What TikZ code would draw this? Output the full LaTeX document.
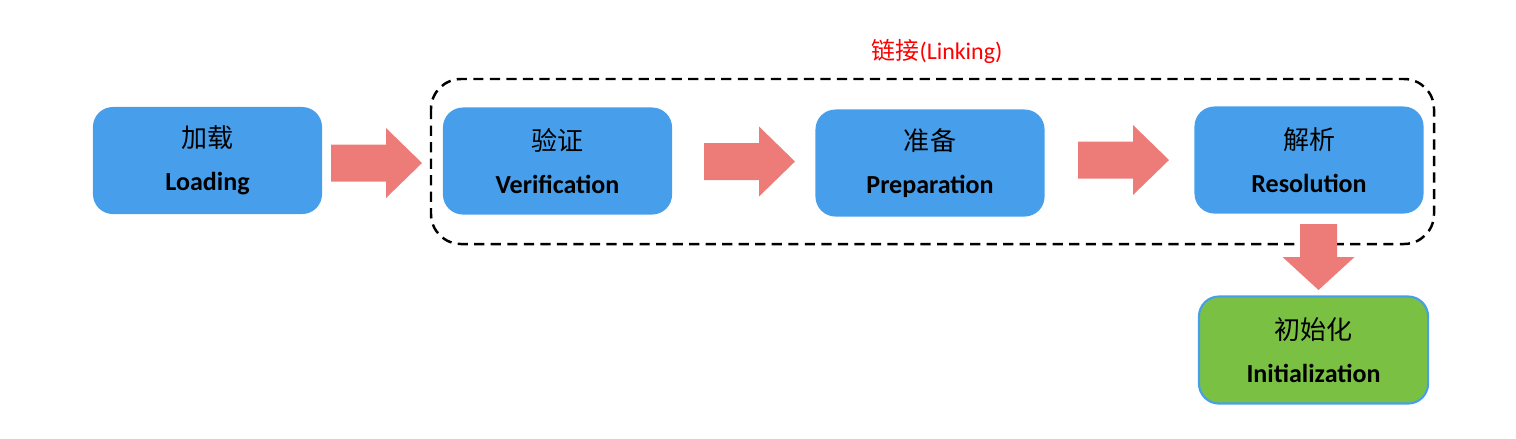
\documentclass[tikz,border=0pt]{standalone}
\usepackage{fontspec}
\setmainfont{Carlito}
\newfontfamily\cjk{Noto Sans CJK SC}
\definecolor{boxblue}{HTML}{479FEB}
\definecolor{boxgreen}{HTML}{7AC143}
\definecolor{arrowpink}{HTML}{ED7C79}
\tikzset{
  stagebox/.style={rounded corners=0.2cm, fill=boxblue, draw=none, minimum width=2.29cm, minimum height=1.07cm, inner sep=0pt, align=center, font=\fontsize{7.4}{12.2}\selectfont},
  greenbox/.style={stagebox, fill=boxgreen, draw=boxblue, line width=0.6pt},
  arrowfill/.style={fill=arrowpink, draw=none},
  linkframe/.style={draw=black, line width=0.7pt, dash pattern=on 2.9pt off 1.8pt, rounded corners=0.3cm},
  rarrow/.pic={\fill[arrowfill] (0,-18.5) -- (55,-18.5) -- (55,-35) -- (91,0) -- (55,35) -- (55,18.5) -- (0,18.5) -- cycle;},
  darrow/.pic={\fill[arrowfill] (-18.5,0) -- (-18.5,33) -- (-36,33) -- (0,66) -- (36,33) -- (18.5,33) -- (18.5,0) -- cycle;}
}
\begin{document}
\begin{tikzpicture}[x=0.01cm, y=-0.01cm]
\useasboundingbox (0,0) rectangle (1516,438);
% dashed linking frame
\draw[linkframe] (431,79) rectangle (1434,244);
\node[text=red, font=\fontsize{6.8}{8}\selectfont] (linklabel) at (937,51) {{\cjk 链接}(Linking)};
% stage boxes
\node[stagebox] (load) at (207.5,160.5) {{\cjk 加载}\\\textbf{Loading}};
\node[stagebox] (verify) at (557.5,161) {{\cjk 验证}\\\textbf{Verification}};
\node[stagebox] (prep) at (930,163) {{\cjk 准备}\\\textbf{Preparation}};
\node[stagebox] (resol) at (1309,160) {{\cjk 解析}\\\textbf{Resolution}};
\node[greenbox] (init) at (1313.5,350) {{\cjk 初始化}\\\textbf{Initialization}};
% block arrows
\pic at (331,163) {rarrow};
\pic at (704,161.5) {rarrow};
\pic at (1078,160) {rarrow};
\pic at (1318.5,224) {darrow};
\end{tikzpicture}
\end{document}
